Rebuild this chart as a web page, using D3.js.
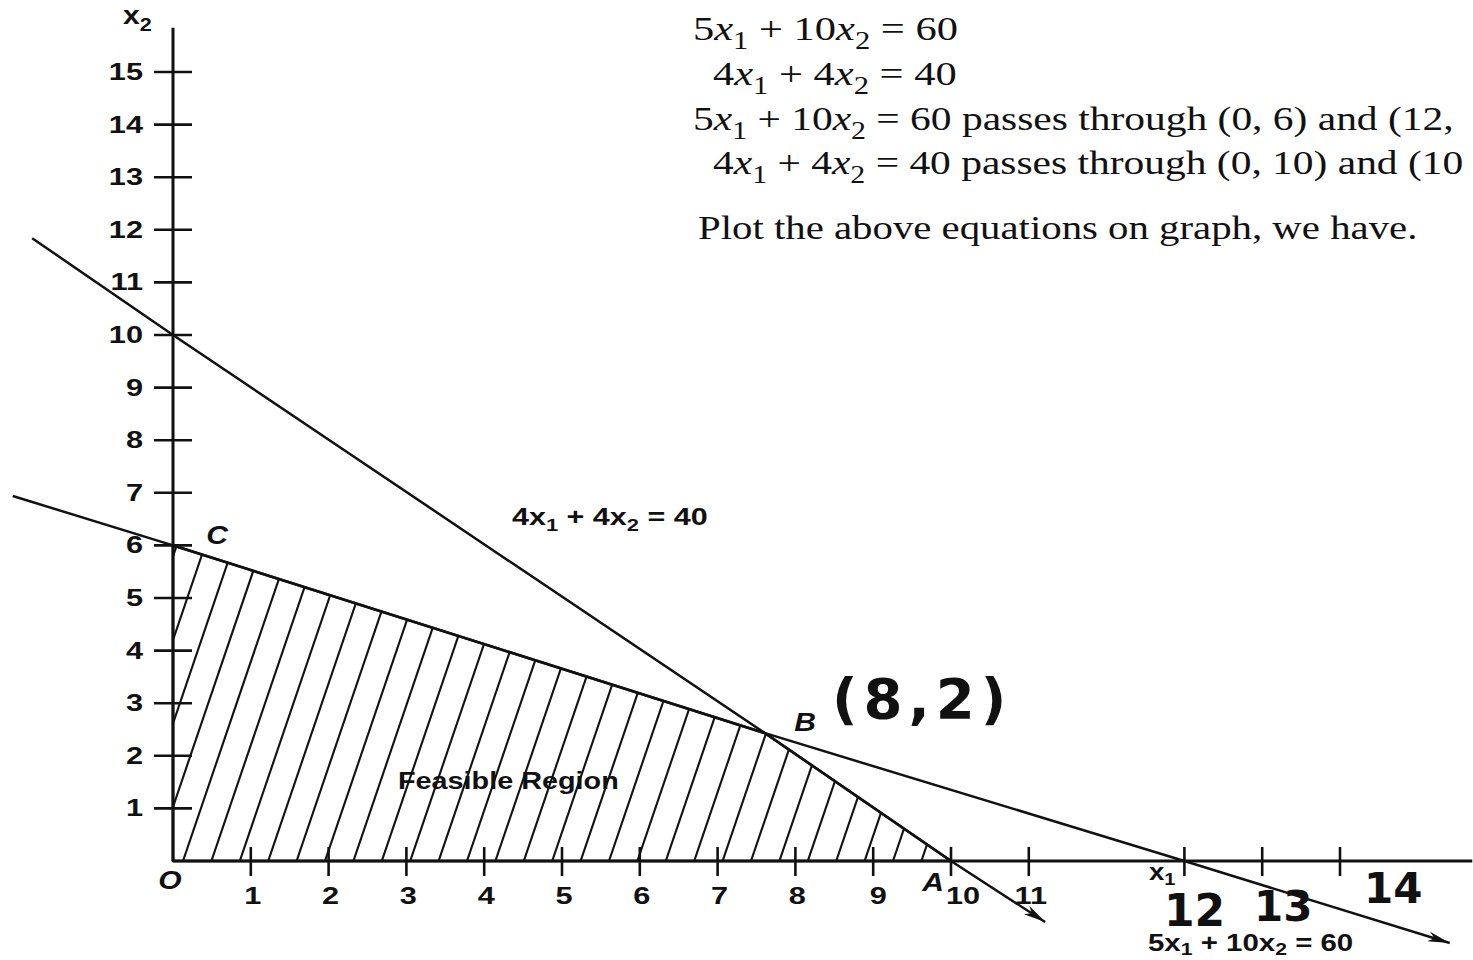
<!DOCTYPE html>
<html>
<head>
<meta charset="utf-8">
<script src="https://cdn.jsdelivr.net/npm/d3@7"></script>
<style>
  html, body { margin: 0; padding: 0; background: #fff; }
  svg { display: block; }
</style>
</head>
<body>
<svg id="chart" width="1473" height="960"></svg>
<script>
// ---------- data ----------
const xTickValues = [1, 2, 3, 4, 5, 6, 7, 8, 9, 10, 11];
const xTickLabels = ["1", "2", "3", "4", "5", "6", "7", "8", "9", "10", "11"];
const xUnlabeledTicks = [13, 14, 15];
const yTickValues = [1, 2, 3, 4, 5, 6, 7, 8, 9, 10, 11, 12, 13, 14, 15];
const yTickLabels = ["1", "2", "3", "4", "5", "6", "7", "8", "9", "10", "11", "12", "13", "14", "15"];

// constraint lines as drawn (x1, x2)
const line1Points = [[-2.06, 6.94], [0, 6], [7.61, 2.43], [13, 0], [16.41, -1.56]]; // 5x1 + 10x2 = 60
const line2Points = [[-1.81, 11.84], [0, 10], [7.61, 2.43], [10, 0], [11.21, -1.16]]; // 4x1 + 4x2 = 40

// feasible region corners O, A, B, C
const feasiblePoints = [[0, 0], [10, 0], [7.61, 2.43], [0, 6]];
const cornerNames = ["O", "A", "B", "C"];

const axisExtentX = 16.7;
const axisExtentY = 15.84;

const topTextLines = [
  [["5"], ["x", "i"], ["1", "s"], [" + 10"], ["x", "i"], ["2", "s"], [" = 60"]],
  [["4"], ["x", "i"], ["1", "s"], [" + 4"], ["x", "i"], ["2", "s"], [" = 40"]],
  [["5"], ["x", "i"], ["1", "s"], [" + 10"], ["x", "i"], ["2", "s"], [" = 60 passes through (0, 6) and (12,"]],
  [["4"], ["x", "i"], ["1", "s"], [" + 4"], ["x", "i"], ["2", "s"], [" = 40 passes through (0, 10) and (10"]],
  [["Plot the above equations on graph, we have."]]
];

const line2Label = [["4"], ["x"], ["1", "s"], [" + 4"], ["x"], ["2", "s"], [" = 40"]];
const line1Label = [["5"], ["x"], ["1", "s"], [" + 10"], ["x"], ["2", "s"], [" = 60"]];
const regionLabel = "Feasible Region";
const handNotes = ["(8,2)", "12", "13", "14"];

// ---------- drawing ----------
const svg = d3.select("#chart");
const x = d3.scaleLinear().domain([0, 10]).range([173, 951]);
const y = d3.scaleLinear().domain([0, 15]).range([861, 72]);

const SANS = "'Liberation Sans', Arial, sans-serif";
const SERIF = "'Liberation Serif', 'Times New Roman', serif";

function richText(parent, parts, px, py, opts) {
  const t = parent.append("text")
    .attr("transform", `translate(${px},${py}) scale(${opts.sx},1)`)
    .attr("text-anchor", opts.anchor || "start")
    .attr("font-family", opts.family)
    .attr("font-weight", opts.weight || "normal")
    .attr("font-size", opts.size)
    .attr("fill", "#111");
  const sub = opts.sub || 0.26;
  let shifted = false;
  parts.forEach(p => {
    const ts = t.append("tspan").text(p[0]);
    const kind = p[1] || "";
    if (kind.includes("i")) ts.attr("font-style", "italic");
    if (kind.includes("s")) {
      ts.attr("font-size", opts.size * 0.72).attr("dy", opts.size * sub);
      shifted = true;
    } else if (shifted) {
      ts.attr("dy", -opts.size * sub);
      shifted = false;
    }
  });
  return t;
}

// hatching of feasible region
const defs = svg.append("defs");
defs.append("clipPath").attr("id", "feasClip")
  .append("path").attr("d", d3.line().x(d => x(d[0])).y(d => y(d[1]))(feasiblePoints) + "Z");

const hatchG = svg.append("g").attr("clip-path", "url(#feasClip)");
const hatchStep = 28.4, hatchSlope = 2.94;
const hatchStart = x(0) + 10;
d3.range(-6, 32).forEach(k => {
  const bx = hatchStart + k * hatchStep;
  const by = y(0);
  hatchG.append("line")
    .attr("x1", bx - 10).attr("y1", by + 10 * hatchSlope)
    .attr("x2", bx + 120).attr("y2", by - 120 * hatchSlope)
    .attr("stroke", "#111").attr("stroke-width", 2.1);
});

// polygon outline
svg.append("path")
  .attr("d", d3.line().x(d => x(d[0])).y(d => y(d[1]))(feasiblePoints) + "Z")
  .attr("fill", "none").attr("stroke", "#111").attr("stroke-width", 2.6);

// arrow marker
defs.append("marker")
  .attr("id", "arrow").attr("viewBox", "0 0 22 10")
  .attr("refX", 22).attr("refY", 5)
  .attr("markerWidth", 22).attr("markerHeight", 10)
  .attr("markerUnits", "userSpaceOnUse")
  .attr("orient", "auto")
  .append("path").attr("d", "M0,0 L22,5 L0,10 L6,5 Z").attr("fill", "#111");

const lineGen = d3.line().x(d => x(d[0])).y(d => y(d[1]));
[line1Points, line2Points].forEach(pts => {
  svg.append("path").attr("d", lineGen(pts))
    .attr("fill", "none").attr("stroke", "#111").attr("stroke-width", 2.5)
    .attr("marker-end", "url(#arrow)");
});

// axes
svg.append("line").attr("x1", x(0)).attr("y1", y(0)).attr("x2", x(0)).attr("y2", y(axisExtentY))
  .attr("stroke", "#111").attr("stroke-width", 3);
svg.append("line").attr("x1", x(0)).attr("y1", y(0)).attr("x2", x(axisExtentX)).attr("y2", y(0))
  .attr("stroke", "#111").attr("stroke-width", 3);

yTickValues.forEach(v => {
  svg.append("line").attr("x1", x(0) - 19).attr("x2", x(0) + 19).attr("y1", y(v)).attr("y2", y(v))
    .attr("stroke", "#111").attr("stroke-width", 2.6);
});
xTickValues.concat(xUnlabeledTicks).forEach(v => {
  svg.append("line").attr("x1", x(v)).attr("x2", x(v)).attr("y1", y(0) - 14).attr("y2", y(0) + 15)
    .attr("stroke", "#111").attr("stroke-width", 2.6);
});

const LBL = { family: SANS, weight: "bold", size: 24, sx: 1.28 };
yTickValues.forEach((v, i) => {
  richText(svg, [[yTickLabels[i]]], 143, y(v) + 8, Object.assign({}, LBL, { anchor: "end" }));
});
xTickValues.forEach((v, i) => {
  const off = v === 10 ? 12 : (v === 9 ? 5 : 2);
  richText(svg, [[xTickLabels[i]]], x(v) + off, 904, Object.assign({}, LBL, { anchor: "middle" }));
});

// axis titles
richText(svg, [["x"], ["2", "s"]], 123, 24, Object.assign({}, LBL, { size: 25, sx: 1.2 }));
richText(svg, [["x"], ["1", "s"]], 1149, 880, Object.assign({}, LBL, { size: 23, sx: 1.2, sub: 0.2 }));

// corner letters
const IT = { family: SANS, weight: "bold", size: 25, sx: 1.2 };
const cornerPos = [[170, 889, "middle"], [933, 891, "middle"], [805, 731, "middle"], [217, 544, "middle"]];
cornerNames.forEach((n, i) => {
  const c = cornerPos[i];
  richText(svg, [[n]], c[0], c[1], Object.assign({}, IT, { anchor: c[2] })).attr("font-style", "italic");
});

// line labels
richText(svg, line2Label, 512, 525, Object.assign({}, LBL, { size: 24, sx: 1.27 }));
richText(svg, line1Label, 1148, 951, Object.assign({}, LBL, { size: 23, sx: 1.28, sub: 0.18 }));
richText(svg, [[regionLabel]], 398, 789, Object.assign({}, LBL, { size: 24, sx: 1.2 }));

// top typeset text
const topPos = [[693, 40], [713, 85], [693, 130], [713, 174], [698, 239]];
const topSx = [1.25, 1.25, 1.22, 1.22, 1.2];
topTextLines.forEach((parts, i) => {
  richText(svg, parts, topPos[i][0], topPos[i][1], { family: SERIF, size: 34, sx: topSx[i] });
});

// handwritten notes
const HAND = { family: "'DejaVu Sans', sans-serif", weight: "bold", size: 54, sx: 1.0 };
richText(svg, [[handNotes[0]]], 832, 718, Object.assign({}, HAND, { size: 56 })).attr("letter-spacing", 6);
richText(svg, [[handNotes[1]]], 1164, 926, Object.assign({}, HAND, { size: 44 }));
richText(svg, [[handNotes[2]]], 1254, 921, Object.assign({}, HAND, { size: 42 }));
richText(svg, [[handNotes[3]]], 1364, 903, Object.assign({}, HAND, { size: 42 }));
</script>
</body>
</html>
